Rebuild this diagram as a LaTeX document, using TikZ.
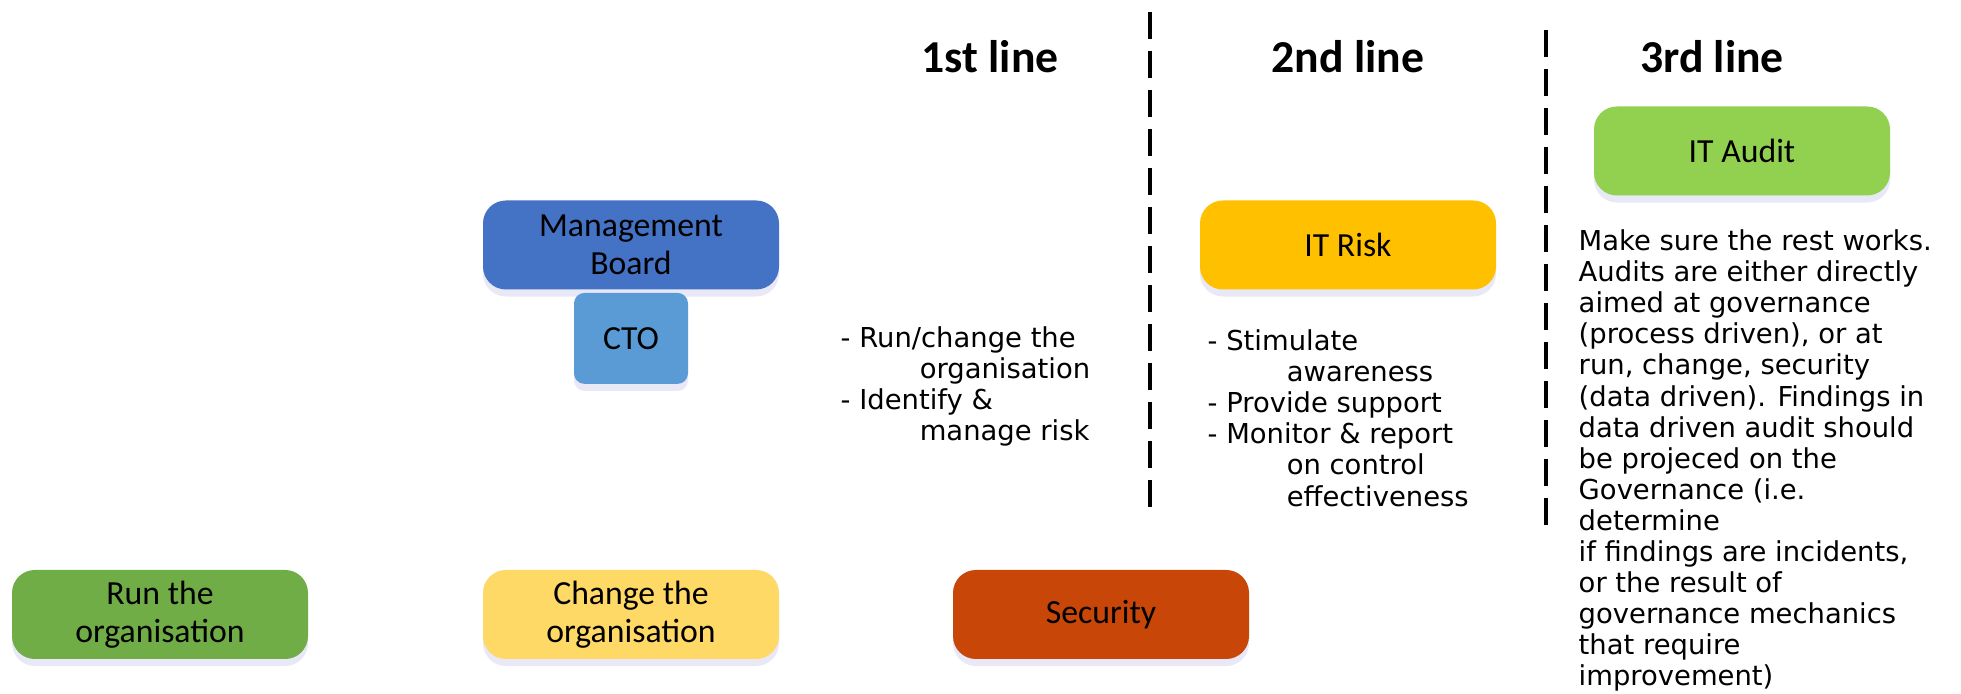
\documentclass[tikz,border=0pt]{standalone}
\usepackage{fontspec}
\setmainfont{Carlito}
\newfontfamily\notefont{DejaVu Sans}
\usetikzlibrary{positioning,shadows}
\definecolor{boardblue}{RGB}{68,114,196}
\definecolor{ctoblue}{RGB}{91,155,213}
\definecolor{riskyellow}{RGB}{255,192,0}
\definecolor{auditgreen}{RGB}{146,208,80}
\definecolor{rungreen}{RGB}{112,173,71}
\definecolor{changeyellow}{RGB}{255,217,102}
\definecolor{securityred}{RGB}{200,70,8}
\newcommand{\boxw}{2.96cm}
\newcommand{\boxh}{0.89cm}
\newcommand{\ind}{\hspace*{22.5pt}}

\begin{document}
\begin{tikzpicture}
  \tikzset{
    unit/.style={rectangle, rounded corners=6.5pt, minimum width=\boxw, minimum height=\boxh,
      align=center, inner sep=2pt, font=\fontsize{9.6}{10.8}\selectfont,
      drop shadow={shadow xshift=0pt, shadow yshift=-2pt, opacity=0.12, fill=blue!50!gray}},
    heading/.style={font=\fontsize{13}{15}\selectfont\bfseries, anchor=base},
    notes/.style={font=\notefont\fontsize{7.8}{8.85}\selectfont, align=left, anchor=north west, inner sep=0pt},
    divider/.style={line width=1pt, dash pattern=on 7.7pt off 3.4pt}
  }
  \useasboundingbox (0,0) rectangle (19.61,6.94);

  % headings
  \node[heading] (firsthead) at (9.90,6.21) {1st line};
  \node[heading] (secondhead) at (13.48,6.21) {2nd line};
  \node[heading] (thirdhead) at (17.12,6.21) {3rd line};

  % dividers
  \coordinate (div1top) at (11.50,6.82);
  \coordinate (div1bot) at (11.50,1.86);
  \coordinate (div2top) at (15.46,6.64);
  \coordinate (div2bot) at (15.46,1.69);
  \draw[divider] (div1top) -- (div1bot);
  \draw[divider] (div2top) -- (div2bot);

  % governance
  \node[unit, fill=boardblue] (board) at (6.31,4.49) {Management\\Board};
  \node[unit, fill=ctoblue, minimum width=1.14cm, minimum height=0.91cm, rounded corners=3pt,
    below=0.02 of board] (cto) {CTO};

  % the three activities
  \node[unit, fill=rungreen] (run) at (1.60,0.795) {Run the\\organisation};
  \node[unit, fill=changeyellow] (change) at (6.31,0.795) {Change the\\organisation};
  \node[unit, fill=securityred] (security) at (11.01,0.795) {Security};

  % lines of defence
  \node[unit, fill=riskyellow] (itrisk) at (13.48,4.49) {IT Risk};
  \node[unit, fill=auditgreen] (itaudit) at (17.42,5.43) {IT Audit};

  \node[notes] (firstnote) at (8.40,3.68) {- Run/change the\\ \ind organisation\\- Identify \&\\ \ind manage risk};
  \node[notes] (secondnote) at (12.07,3.65) {- Stimulate\\ \ind awareness\\- Provide support\\- Monitor \& report\\ \ind on control\\ \ind effectiveness};
  \node[notes] (thirdnote) at (15.78,4.65) {Make sure the rest works.\\Audits are either directly\\aimed at governance\\(process driven), or at\\run, change, security\\(data driven). Findings in\\data driven audit should\\be projeced on the\\Governance (i.e.\\determine\\if findings are incidents,\\or the result of\\governance mechanics\\that require\\improvement)};
\end{tikzpicture}
\end{document}
